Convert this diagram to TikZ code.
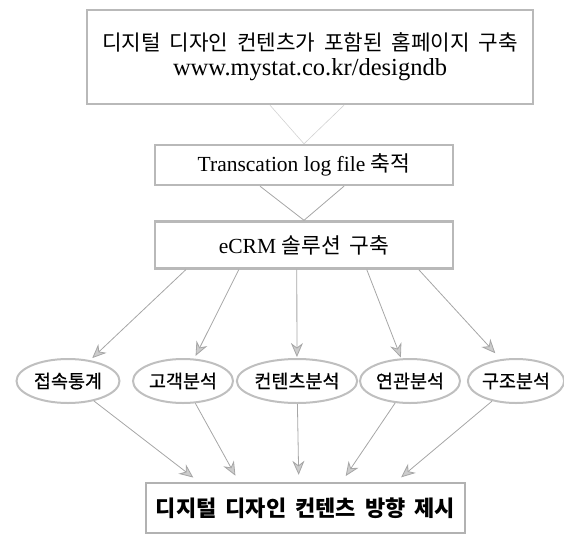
\documentclass[tikz,border=0pt]{standalone}
\usepackage{fontspec}
\setmainfont{Liberation Serif}
\newfontfamily\kr{Noto Sans CJK KR}[WordSpace=1.8]
\newfontfamily\krheavy{Noto Sans CJK KR}[FakeBold=0.6]
\usetikzlibrary{arrows.meta,shapes.geometric}

\begin{document}
\begin{tikzpicture}[x=1pt,y=-1pt,
  box/.style={draw=gray!55,line width=2.4pt,inner sep=0pt,align=center,text=black},
  oval/.style={ellipse,draw=gray!50,line width=2pt,inner sep=0pt,minimum height=44pt,
    font=\krheavy\fontsize{18.5}{22}\selectfont},
  link/.style={draw=gray!70,line width=0.8pt},
  faint/.style={draw=gray!35,line width=0.6pt},
  arr/.style={link,-{Stealth[length=14pt,width=12pt,color=gray!70,fill=gray!40]}},
]
\useasboundingbox (0,0) rectangle (564,535);

% process boxes
\node[box,minimum width=446pt,minimum height=94pt] (site) at (310,57)
  {{\kr\fontsize{21.3}{24}\selectfont 디지털 디자인 컨텐츠가 포함된 홈페이지 구축}\\[5pt]
   {\fontsize{24.5}{26}\selectfont www.mystat.co.kr/designdb}};
\node[box,minimum width=298pt,minimum height=40pt] (log) at (304,165)
  {\fontsize{21.5}{24}\selectfont Transcation log file {\kr 축적}};
\node[box,minimum width=298pt,minimum height=47pt] (ecrm) at (304,245)
  {\fontsize{21.5}{24}\selectfont eCRM {\kr 솔루션 구축}};

% analysis ovals
\node[oval,minimum width=103pt] (e1) at (68,381) {접속통계};
\node[oval,minimum width=100pt] (e2) at (183,381) {고객분석};
\node[oval,minimum width=113pt] (e3) at (297,381) {컨텐츠분석};
\node[oval,minimum width=100pt] (e4) at (410,381) {연관분석};
\node[oval,minimum width=88pt]  (e5) at (516,381) {구조분석};

% result box
\node[box,draw=gray!60,minimum width=319pt,minimum height=50pt] (result) at (305.5,508)
  {\kr\bfseries\fontsize{22}{24}\selectfont 디지털 디자인 컨텐츠 방향 제시};

% open V links between the stacked boxes
\draw[faint] ([xshift=-34pt]site.south -| log.south) -- (log.north) -- ([xshift=40pt]site.south -| log.south);
\draw[link] ([xshift=-44pt]log.south) -- (ecrm.north) -- ([xshift=40pt]log.south);

% ecrm -> ovals
\draw[arr,shorten >=3pt] ([xshift=32pt]ecrm.south west) -- (e1);
\draw[arr,shorten >=3pt] ([xshift=85pt]ecrm.south west) -- (e2);
\draw[arr,shorten >=1pt] ([xshift=143pt]ecrm.south west) -- (e3);
\draw[arr,shorten >=1pt] ([xshift=213pt]ecrm.south west) -- (e4);
\draw[arr,shorten >=8pt] ([xshift=265pt]ecrm.south west) -- (e5.125);

% ovals -> result
\draw[arr,shorten >=7pt] (e1) -- ([xshift=54pt]result.north west);
\draw[arr,shorten >=7pt] (e2) -- ([xshift=94pt]result.north west);
\draw[arr,shorten >=7pt] (e3) -- ([xshift=154pt]result.north west);
\draw[arr,shorten >=7pt] (e4) -- ([xshift=197pt]result.north west);
\draw[arr,shorten >=7pt] (e5) -- ([xshift=251pt]result.north west);
\end{tikzpicture}
\end{document}
